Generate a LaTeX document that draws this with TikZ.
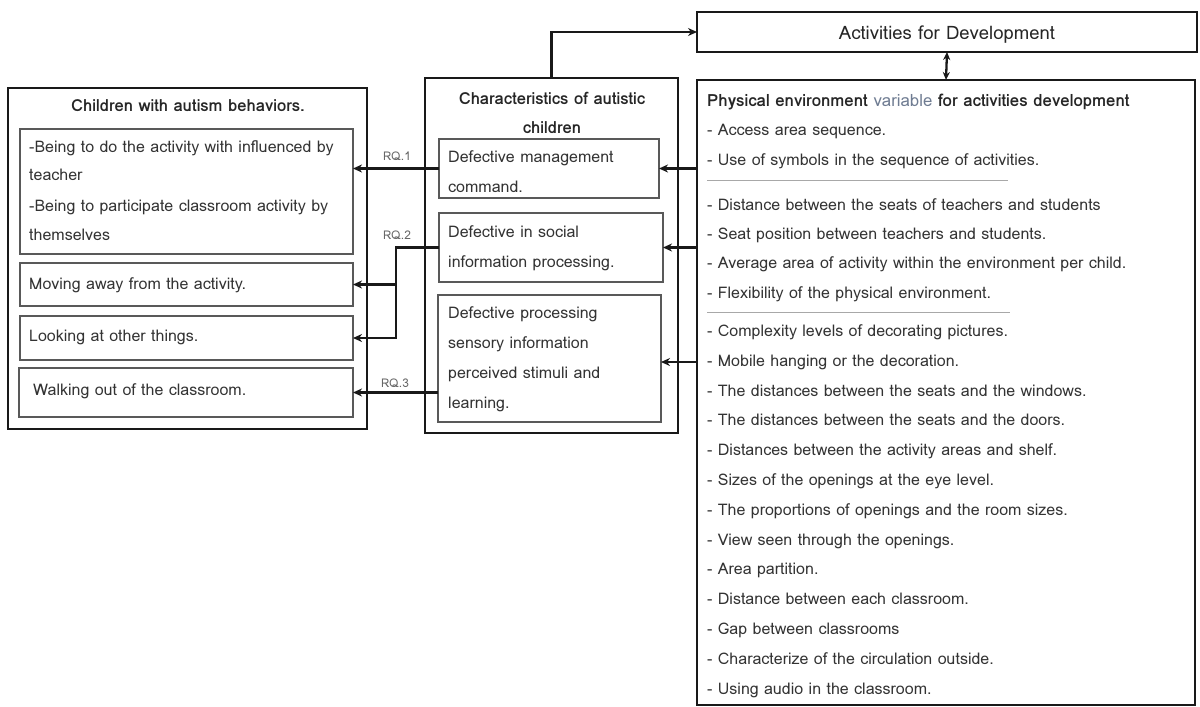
\documentclass[tikz,border=0pt]{standalone}
\usepackage{fontspec}
\setmainfont{Loma}
\usetikzlibrary{arrows.meta,calc}
\definecolor{ink}{HTML}{333333}
\definecolor{varcol}{HTML}{6F7C92}
\definecolor{sepcol}{HTML}{A8A8A8}
\tikzset{
  outerbox/.style={draw=black!90, line width=1.8pt, inner sep=0pt, outer sep=0pt, anchor=north west},
  innerbox/.style={draw=black!65, line width=1.1pt, inner sep=0pt, outer sep=0pt, anchor=north west},
  txt/.style={anchor=mid west, inner sep=0pt, yshift=-3pt, font=\fontsize{16}{18}\selectfont, text=ink},
  ttl/.style={anchor=mid, inner sep=0pt, yshift=-3.5pt, font=\fontsize{16.6}{18}\selectfont\bfseries, text=black!85},
  rq/.style={anchor=mid, inner sep=0pt, yshift=-1pt, font=\fontsize{12}{14}\selectfont, text=black!60},
  conn/.style={line width=2.3pt, draw=black!90},
  arr/.style={conn, -{Stealth[length=9pt,width=8pt]}},
  darr/.style={conn, {Stealth[length=8pt,width=7pt]}-{Stealth[length=8pt,width=7pt]}},
  sep/.style={draw=sepcol, line width=0.8pt},
}
\begin{document}
\begin{tikzpicture}[x=1pt,y=-1pt]
\useasboundingbox[fill=white] (0,0) rectangle (1200,707);

% ---- behaviours column ----
\node[outerbox, minimum width=359pt, minimum height=341pt] (L) at (8,88) {};
\node[ttl] (Lt) at (188,105) {Children with autism behaviors.};
\node[innerbox, minimum width=333pt, minimum height=125pt] (L1) at (20,129) {};
\node[innerbox, minimum width=333pt, minimum height=43pt] (L2) at (20,263) {};
\node[innerbox, minimum width=333pt, minimum height=44pt] (L3) at (20,316) {};
\node[innerbox, minimum width=334pt, minimum height=49pt] (L4) at (19,368) {};
\node[txt] (l1a) at (29,147) {-Being to do the activity with influenced by};
\node[txt] (l1b) at (29,175) {teacher};
\node[txt] (l1c) at (29,206) {-Being to participate classroom activity by};
\node[txt] (l1d) at (29,235) {themselves};
\node[txt] (l2) at (29,284) {Moving away from the activity.};
\node[txt] (l3) at (29,336) {Looking at other things.};
\node[txt] (l4) at (33,390) {Walking out of the classroom.};

% ---- characteristics column ----
\node[outerbox, minimum width=253pt, minimum height=355pt] (M) at (425,78) {};
\node[ttl] (Mt1) at (552,98) {Characteristics of autistic};
\node[ttl] (Mt2) at (552,127) {children};
\node[innerbox, minimum width=220pt, minimum height=59pt] (A) at (439,139) {};
\node[innerbox, minimum width=224pt, minimum height=69pt] (B) at (439,213) {};
\node[innerbox, minimum width=223pt, minimum height=127pt] (C) at (438,295) {};
\node[txt] (a1) at (448,157) {Defective management};
\node[txt] (a2) at (448,187) {command.};
\node[txt] (b1) at (448,232) {Defective in social};
\node[txt] (b2) at (448,262) {information processing.};
\node[txt] (c1) at (448,313) {Defective processing};
\node[txt] (c2) at (448,343) {sensory information};
\node[txt] (c3) at (448,373) {perceived stimuli and};
\node[txt] (c4) at (448,403) {learning.};

% ---- activities and environment column ----
\node[outerbox, minimum width=500pt, minimum height=40pt] (Act) at (697,12) {};
\node[ttl, font=\fontsize{18.5}{20}\selectfont, text=black!85] (Actt) at (947,33) {Activities for Development};
\node[outerbox, minimum width=498pt, minimum height=625pt] (P) at (697,80) {};
\node[txt, font=\fontsize{16.8}{18}\selectfont\bfseries, text=black!85] (Pt) at (707,101)
  {Physical environment \textcolor{varcol}{\mdseries variable} for activities development};
\node[txt] (q1) at (707,130) {- Access area sequence.};
\node[txt] (q2) at (707,160) {- Use of symbols in the sequence of activities.};
\coordinate (s1a) at (707,180);
\coordinate (s1b) at (1008,180);
\draw[sep] (s1a) -- (s1b);
\node[txt] (q3) at (707,205) {- Distance between the seats of teachers and students};
\node[txt] (q4) at (707,234) {- Seat position between teachers and students.};
\node[txt] (q5) at (707,263) {- Average area of activity within the environment per child.};
\node[txt] (q6) at (707,293) {- Flexibility of the physical environment.};
\coordinate (s2a) at (707,312);
\coordinate (s2b) at (1010,312);
\draw[sep] (s2a) -- (s2b);
\foreach \t [count=\i] in {
  {- Complexity levels of decorating pictures.},
  {- Mobile hanging or the decoration.},
  {- The distances between the seats and the windows.},
  {- The distances between the seats and the doors.},
  {- Distances between the activity areas and shelf.},
  {- Sizes of the openings at the eye level.},
  {- The proportions of openings and the room sizes.},
  {- View seen through the openings.},
  {- Area partition.},
  {- Distance between each classroom.},
  {- Gap between classrooms},
  {- Characterize of the circulation outside.},
  {- Using audio in the classroom.}}
  \node[txt] (r\i) at (707,{331+(\i-1)*29.8}) {\t};

% ---- connectors ----
\draw[arr] (M.north) |- (Act.west);
\draw[darr] (Act.south) -- (P.north);
\draw[arr] (P.west |- A.east) -- (A.east);
\draw[arr] (P.west |- B.east) -- (B.east);
\draw[arr] (P.west |- 0,362) -- (C.east |- 0,362);

\draw[arr] (A.west) -- (L1.east |- A.west);
\coordinate (j2) at (396,0);
\draw[arr] (B.west) -- (j2 |- B.west) |- (L3.east);
\draw[arr] (j2 |- L2.east) -- (L2.east);
\draw[arr] (C.west |- L4.east) -- (L4.east);

\node[rq] (rq1) at (397,157) {RQ.1};
\node[rq] (rq2) at (397,236) {RQ.2};
\node[rq] (rq3) at (395,384) {RQ.3};
\end{tikzpicture}
\end{document}
